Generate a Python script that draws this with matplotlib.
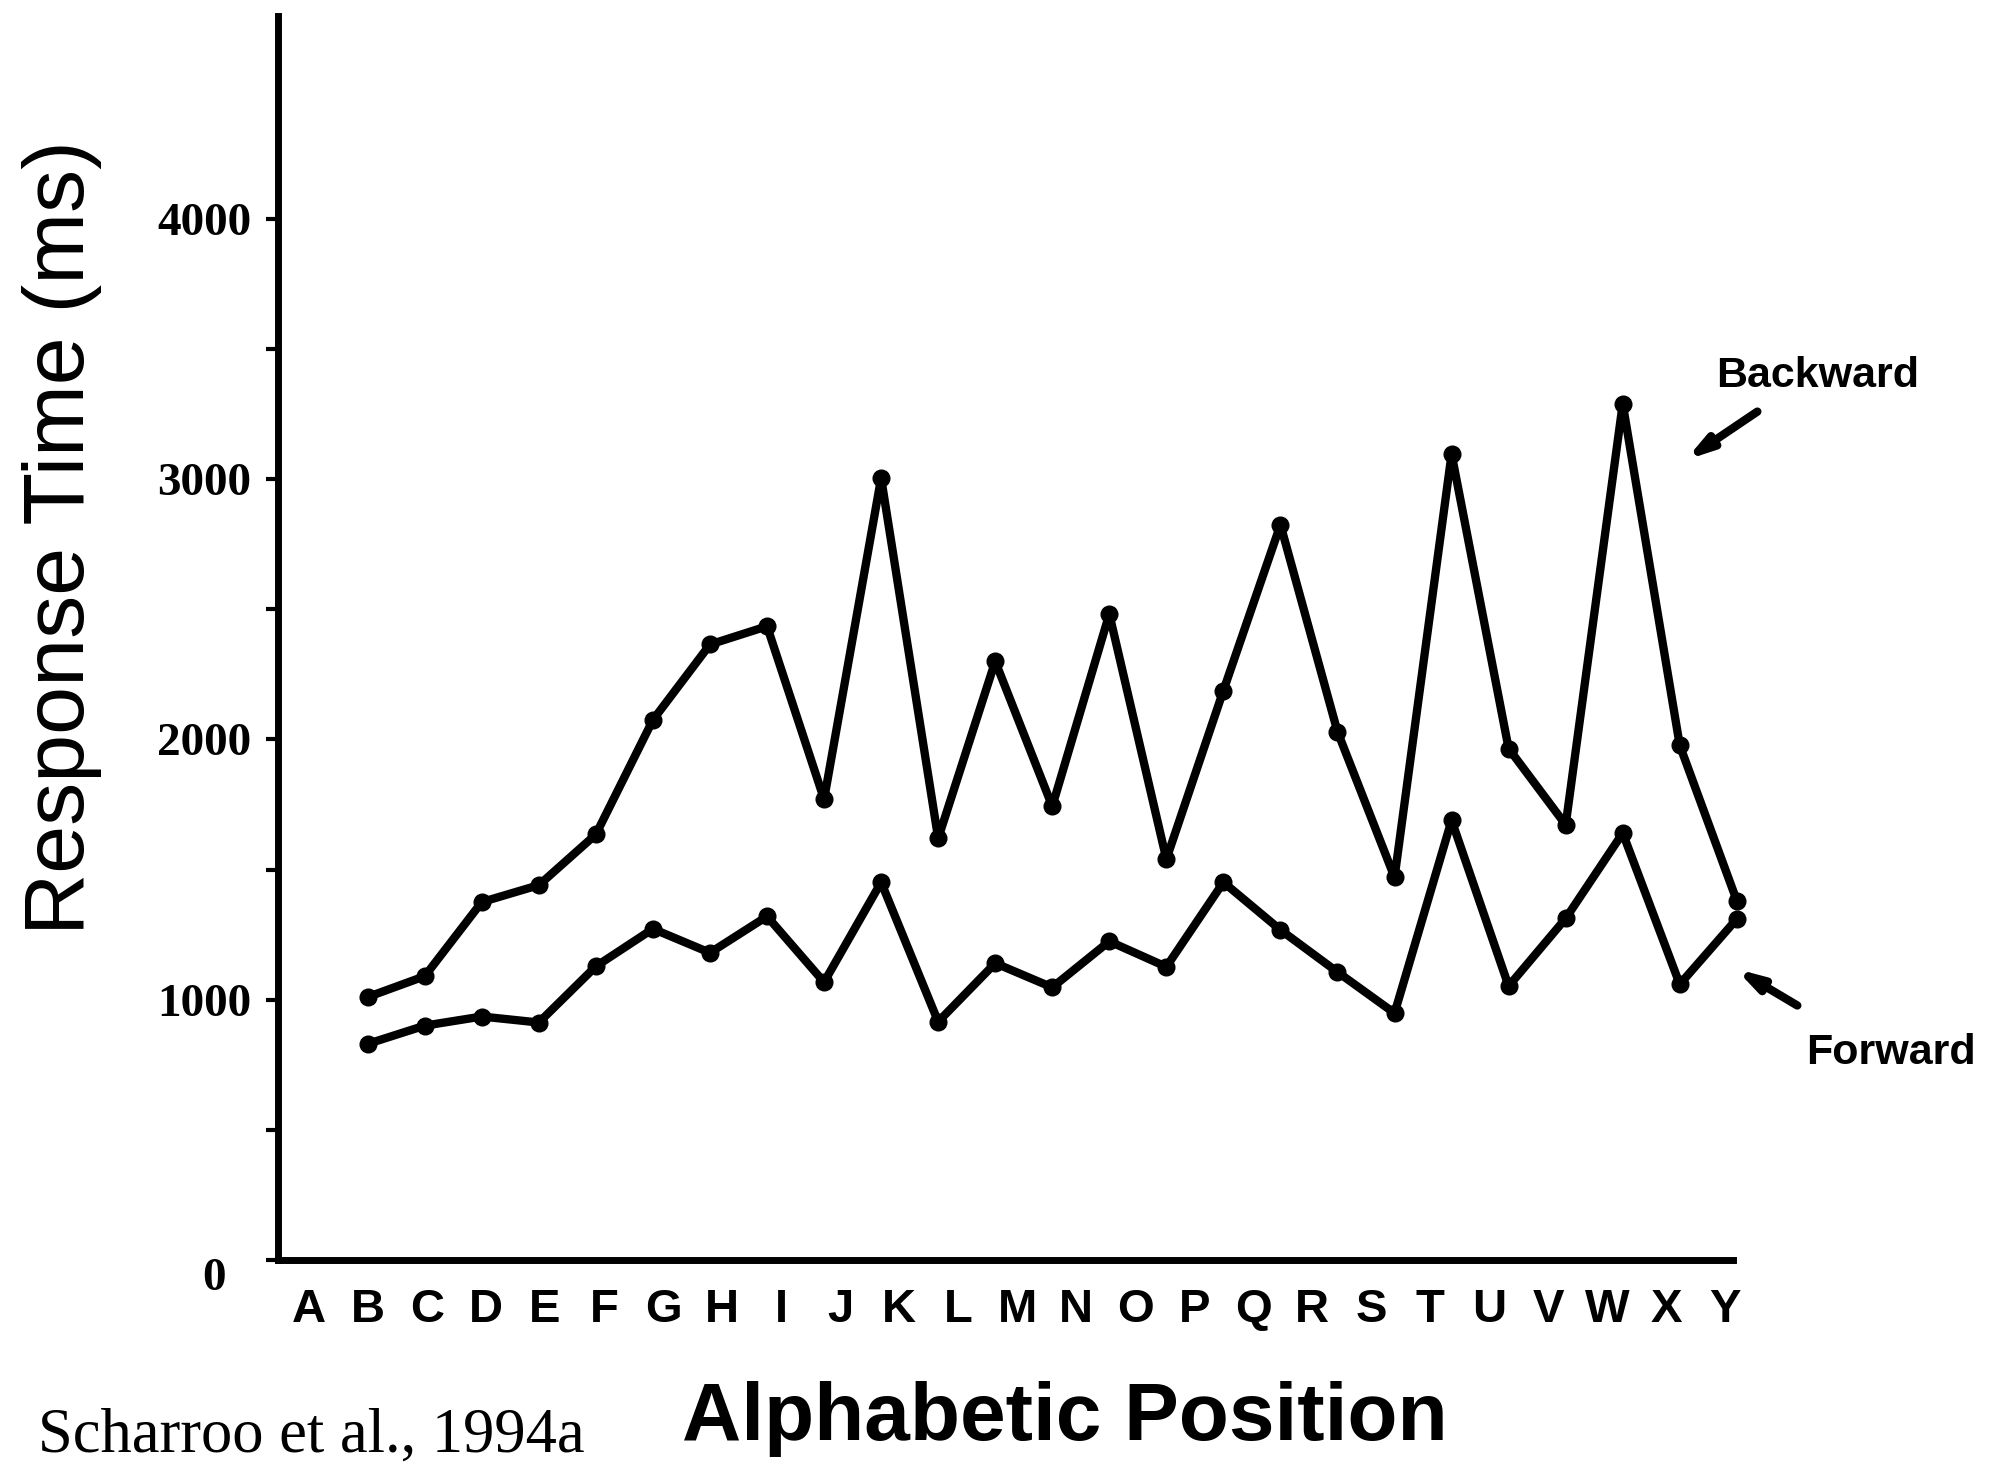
import numpy as np
import matplotlib
matplotlib.use("Agg")
import matplotlib.pyplot as plt
from matplotlib.ticker import FixedLocator
from matplotlib.transforms import ScaledTranslation

# letters on the x axis and the two response-time series (ms)
letters = list("ABCDEFGHIJKLMNOPQRSTUVWXY")
backward = [1010, 1090, 1375, 1440, 1635, 2075, 2365, 2435, 1770, 3005,
            1620, 2300, 1743, 2482, 1540, 2188, 2825, 2030, 1470, 3097,
            1965, 1672, 3290, 1977, 1380]
forward = [830, 900, 935, 912, 1128, 1272, 1180, 1320, 1067, 1451,
           915, 1140, 1047, 1224, 1126, 1451, 1268, 1106, 948, 1689,
           1052, 1312, 1640, 1059, 1310]
y_labels = ["0", "1000", "2000", "3000", "4000"]

pos = np.arange(len(backward))
letter_pos = np.linspace(-1.03, 23.8, len(letters))

fig = plt.figure(figsize=(19.97, 14.70), dpi=100)
ax = fig.add_axes([0.139, 0.143, 0.729, 0.846])

line_kw = dict(color="black", lw=6, marker="o", ms=12, clip_on=False)
ax.plot(pos, backward, **line_kw)
ax.plot(pos, forward, **line_kw)

ax.set_xlim(-1.58, 23.94)
ax.set_ylim(0, 4780)

for s in ["top", "right"]:
    ax.spines[s].set_visible(False)
for s in ["left", "bottom"]:
    ax.spines[s].set_linewidth(5)

ax.set_yticks([0, 1000, 2000, 3000, 4000])
ax.set_yticklabels(y_labels, family="Liberation Serif", fontweight="bold", fontsize=34)
ax.yaxis.set_minor_locator(FixedLocator([500, 1500, 2500, 3500]))
ax.tick_params(axis="y", which="both", direction="out", length=9, width=3, pad=10)
ax.tick_params(axis="y", which="minor", labelleft=False)

zero_lbl = ax.get_yticklabels()[0]
zero_lbl.set_transform(zero_lbl.get_transform() + ScaledTranslation(-0.25, -0.14, fig.dpi_scale_trans))

ax.set_xticks(letter_pos)
ax.set_xticklabels(letters, family="Liberation Sans", fontweight="bold", fontsize=34)
ax.tick_params(axis="x", length=0, pad=20)

fig.text(0.031, 0.634, "Response Time (ms)", rotation=90, ha="center", va="center",
         family="Liberation Sans", fontsize=62)
fig.text(0.533, 0.035, "Alphabetic Position", ha="center", va="center",
         family="Liberation Sans", fontweight="bold", fontsize=59)
fig.text(0.019, 0.0225, "Scharroo et al., 1994a", ha="left", va="center",
         family="Liberation Serif", fontsize=45)

arrow_kw = dict(arrowstyle="-|>,head_length=1.4,head_width=0.4", color="black",
                lw=6, shrinkA=0, shrinkB=0)
ax.annotate("", xy=(0.844, 0.687), xytext=(0.880, 0.720),
            xycoords="figure fraction", textcoords="figure fraction",
            arrowprops=arrow_kw)
ax.annotate("", xy=(0.869, 0.341), xytext=(0.900, 0.316),
            xycoords="figure fraction", textcoords="figure fraction",
            arrowprops=arrow_kw)
fig.text(0.910, 0.744, "Backward", ha="center", va="center",
         family="Liberation Sans", fontweight="bold", fontsize=31)
fig.text(0.947, 0.284, "Forward", ha="center", va="center",
         family="Liberation Sans", fontweight="bold", fontsize=31)

fig.savefig("out.png", dpi=100, facecolor="white")
